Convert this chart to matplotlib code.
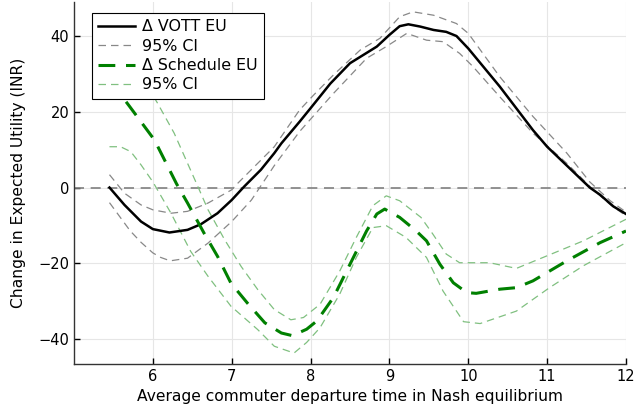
import matplotlib
matplotlib.use("Agg")
import matplotlib.pyplot as plt

# Δ VOTT EU
vott_x = [5.45, 5.64, 5.85, 6.00, 6.21, 6.44, 6.61, 6.82, 7.00, 7.16, 7.37, 7.54, 7.63, 7.86, 8.00, 8.25,
          8.50, 8.84, 9.00, 9.13, 9.24, 9.39, 9.56, 9.72, 9.85, 10.00, 10.40, 10.82, 11.00, 11.54, 11.67, 11.84, 12.00]
vott_y = [0.0, -4.6, -9.0, -11.0, -11.9, -11.2, -9.7, -6.8, -3.3, 0.3, 4.7, 9.1, 11.7, 17.4, 21.0, 27.5,
          32.9, 37.3, 40.4, 42.7, 43.2, 42.6, 41.7, 41.2, 40.1, 36.8, 26.7, 15.2, 10.8, 0.0, -1.9, -5.0, -7.0]

vott_hi_x = [5.45, 5.64, 5.85, 6.00, 6.23, 6.44, 6.70, 7.00, 7.08, 7.54, 7.86, 8.04, 8.29, 8.63, 8.88, 9.13,
             9.30, 9.56, 9.85, 10.00, 10.40, 10.82, 11.25, 11.54, 11.80, 12.00]
vott_hi_y = [3.4, -1.5, -4.6, -5.9, -6.8, -6.3, -4.1, -0.6, 1.2, 10.8, 20.5, 24.5, 29.8, 36.4, 39.5, 45.2,
             46.5, 45.6, 43.4, 40.8, 29.3, 18.8, 9.1, 1.5, -3.5, -6.5]

vott_lo_x = [5.45, 5.71, 5.85, 6.00, 6.10, 6.22, 6.44, 6.70, 7.00, 7.25, 7.54, 7.86, 8.29, 8.71, 8.96, 9.22,
             9.47, 9.68, 9.89, 10.06, 10.40, 10.82, 11.25, 11.58, 11.80, 12.00]
vott_lo_y = [-4.0, -11.4, -14.5, -17.3, -18.5, -19.4, -18.7, -14.7, -9.0, -3.3, 5.8, 14.8, 24.9, 34.2, 37.3, 40.8,
             39.0, 38.6, 35.5, 32.0, 24.0, 14.4, 6.4, -0.5, -4.5, -7.5]

# Δ Schedule EU
sched_x = [5.45, 5.70, 6.02, 6.30, 6.44, 6.65, 6.82, 6.99, 7.20, 7.42, 7.63, 7.77, 7.95, 8.08, 8.29, 8.50,
           8.71, 8.84, 8.94, 9.13, 9.34, 9.47, 9.64, 9.81, 9.98, 10.10, 10.40, 10.61, 10.82, 11.25, 11.67, 12.00]
sched_y = [28.5, 21.6, 12.6, 1.0, -4.1, -12.1, -18.2, -25.3, -30.6, -35.8, -38.5, -39.2, -37.5, -35.3, -29.1, -20.3,
           -11.5, -7.0, -5.7, -7.9, -11.5, -14.1, -20.3, -25.2, -27.8, -28.0, -26.9, -26.5, -24.7, -19.4, -14.6, -11.5]

sched_hi_x = [5.45, 5.70, 6.06, 6.27, 6.57, 6.70, 6.91, 7.12, 7.33, 7.54, 7.75, 7.91, 8.12, 8.37, 8.58, 8.79,
              8.96, 9.13, 9.40, 9.55, 9.72, 9.89, 10.27, 10.61, 11.03, 11.46, 12.00]
sched_hi_y = [44.0, 35.0, 22.3, 14.4, 0.3, -5.9, -13.8, -20.9, -27.0, -32.3, -35.0, -34.4, -30.9, -22.1, -13.2, -4.8,
              -2.2, -3.5, -7.9, -12.3, -17.6, -19.9, -19.9, -21.4, -17.8, -14.1, -8.4]

sched_lo_x = [5.45, 5.59, 5.72, 5.85, 6.00, 6.23, 6.48, 6.70, 6.99, 7.33, 7.54, 7.79, 7.95, 8.12, 8.37, 8.58,
              8.79, 8.96, 9.21, 9.47, 9.68, 9.94, 10.15, 10.61, 11.03, 11.46, 12.00]
sched_lo_y = [10.8, 10.8, 9.5, 6.0, 1.5, -6.8, -16.9, -23.5, -31.4, -37.6, -42.0, -43.8, -41.0, -37.1, -28.2, -18.5,
              -10.6, -10.1, -13.2, -18.5, -27.4, -35.5, -36.0, -32.7, -26.5, -20.7, -14.6]

x_ticks = [6, 7, 8, 9, 10, 11, 12]
y_ticks = [-40, -20, 0, 20, 40]

plt.rcParams['font.family'] = ['DejaVu Sans']
fig = plt.figure(figsize=(6.36, 4.15), dpi=100)
ax = fig.add_axes([74/636, 1 - 364/415, 552/636, 362/415])

ax.axhline(0, color='#808080', lw=1.2, ls=(0, (6, 4)), zorder=1)

ax.plot(vott_x, vott_y, color='black', lw=1.8, label='Δ VOTT EU', zorder=4)
ax.plot(vott_hi_x, vott_hi_y, color='#888888', lw=0.9, ls=(0, (6, 4)), label='95% CI', zorder=3)
ax.plot(vott_lo_x, vott_lo_y, color='#888888', lw=0.9, ls=(0, (6, 4)), zorder=3)
ax.plot(sched_x, sched_y, color='#008000', lw=2.2, ls=(0, (5.5, 3.5)), label='Δ Schedule EU', zorder=4)
ax.plot(sched_hi_x, sched_hi_y, color='#80c080', lw=0.9, ls=(0, (6, 4)), label='95% CI', zorder=3)
ax.plot(sched_lo_x, sched_lo_y, color='#80c080', lw=0.9, ls=(0, (6, 4)), zorder=3)

ax.set_xlim(5.0, 12.0)
ax.set_ylim(-46.7, 49.1)
ax.set_xticks(x_ticks)
ax.set_yticks(y_ticks)
ax.set_yticklabels(['\u221240', '\u221220', '0', '20', '40'])
ax.grid(True, color='#e6e6e6', lw=0.8)
ax.set_axisbelow(True)
for s in ['top', 'right']:
    ax.spines[s].set_visible(False)
for s in ['left', 'bottom']:
    ax.spines[s].set_color('#333333')
    ax.spines[s].set_linewidth(1.0)
ax.tick_params(direction='in', length=4, labelsize=10.5, colors='black', width=1.0)
ax.set_xlabel('Average commuter departure time in Nash equilibrium', fontsize=11.2, labelpad=4)
ax.set_ylabel('Change in Expected Utility (INR)', fontsize=11.2, labelpad=9)

leg = ax.legend(loc='upper left', bbox_to_anchor=(0.0326, 0.970), fontsize=11.4,
                frameon=True, fancybox=False, edgecolor='black', framealpha=1.0,
                borderpad=0.4, labelspacing=0.28, handlelength=2.3, handletextpad=0.45,
                borderaxespad=0)
leg.get_frame().set_linewidth(0.8)

fig.savefig('out.png', dpi=100)
